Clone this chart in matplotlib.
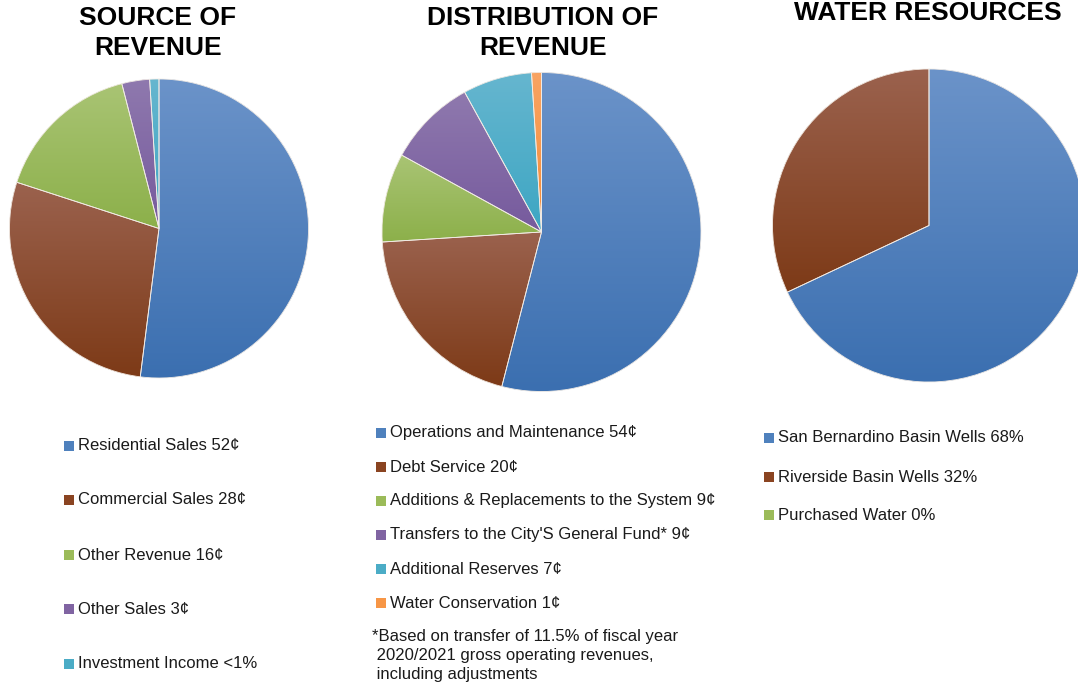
import numpy as np
import matplotlib
matplotlib.use("Agg")
import matplotlib.pyplot as plt
from matplotlib.colors import to_rgb
from matplotlib.patches import Rectangle, Wedge

plt.rcParams["font.family"] = ["Liberation Sans", "DejaVu Sans"]

W, H = 1078, 688

# data
source_labels = ["Residential Sales 52¢", "Commercial Sales 28¢", "Other Revenue 16¢",
                 "Other Sales 3¢", "Investment Income <1%"]
source_values = [52, 28, 16, 3, 1]

dist_labels = ["Operations and Maintenance 54¢", "Debt Service 20¢",
               "Additions & Replacements to the System 9¢",
               "Transfers to the City'S General Fund* 9¢",
               "Additional Reserves 7¢", "Water Conservation 1¢"]
dist_values = [54, 20, 9, 9, 7, 1]

water_labels = ["San Bernardino Basin Wells 68%", "Riverside Basin Wells 32%",
                "Purchased Water 0%"]
water_values = [68, 32, 0]

footnote = ["*Based on transfer of 11.5% of fiscal year",
            " 2020/2021 gross operating revenues,",
            " including adjustments"]

# base colour, gradient top, gradient bottom
palette = [
    ("#4f81bd", "#6b93c9", "#3b6fb0"),
    ("#8a4421", "#9b624e", "#7d3a17"),
    ("#9bbb59", "#a9c474", "#8cb04a"),
    ("#8064a2", "#8f79ae", "#765a9d"),
    ("#4bacc6", "#66b6cf", "#3da6c3"),
    ("#f79646", "#f9a463", "#f58b36"),
]

fig = plt.figure(figsize=(W / 100, H / 100), dpi=100)
ax = fig.add_axes([0, 0, 1, 1])


def py(y):
    return H - y


def gradient_pie(values, cx, cy, r):
    wedges, _ = ax.pie(values, center=(cx, py(cy)), radius=r, startangle=90,
                       counterclock=False, colors=[p[0] for p in palette[:len(values)]],
                       wedgeprops=dict(linewidth=0))
    for w, v, p in zip(wedges, values, palette):
        if v == 0:
            continue
        th = np.radians(np.linspace(w.theta1, w.theta2, 100))
        xs = np.r_[cx, cx + r * np.cos(th)]
        ys = np.r_[py(cy), py(cy) + r * np.sin(th)]
        top, bot = np.array(to_rgb(p[1])), np.array(to_rgb(p[2]))
        t = np.linspace(0, 1, 256)[:, None, None]
        img = top * (1 - t) + bot * t
        img = np.repeat(img, 2, axis=1)
        im = ax.imshow(img, extent=[xs.min(), xs.max(), ys.min(), ys.max()],
                       origin="upper", aspect="auto", zorder=2, interpolation="bilinear")
        im.set_clip_path(w)
        ax.add_patch(Wedge(w.center, w.r, w.theta1, w.theta2, fill=False,
                           edgecolor="#f2ece6", linewidth=0.6, zorder=3))


def legend(labels, x, ys, size=12):
    for lab, y, p in zip(labels, ys, palette):
        ax.add_patch(Rectangle((x, py(y) - 5), 10, 10, facecolor=p[0], edgecolor="none", zorder=3))
        ax.text(x + 14, py(y), lab, fontsize=size, va="center", ha="left", color="#1a1a1a")


gradient_pie(source_values, 159, 228.5, 149.5)
gradient_pie(dist_values, 541.5, 232, 159.5)
gradient_pie(water_values, 929, 225.5, 156.5)

title_kw = dict(fontsize=19, fontweight="bold", ha="center", va="center", color="black")
ax.text(158, py(18), "SOURCE OF", **title_kw)
ax.text(158, py(48), "REVENUE", **title_kw)
ax.text(543, py(18), "DISTRIBUTION OF", **title_kw)
ax.text(543, py(48), "REVENUE", **title_kw)
ax.text(928, py(13), "WATER RESOURCES", **title_kw)

legend(source_labels, 64, [446, 500, 555, 609, 664])
legend(dist_labels, 376, [433, 467, 501, 535, 569, 603])
legend(water_labels, 764, [438, 477, 515])

for i, line in enumerate(footnote):
    ax.text(372, py(637 + 18.5 * i), line, fontsize=12, va="center", ha="left", color="#1a1a1a")

ax.set_xlim(0, W)
ax.set_ylim(0, H)
ax.set_aspect("auto")
ax.axis("off")

fig.savefig("out.png", dpi=100, facecolor="white")
